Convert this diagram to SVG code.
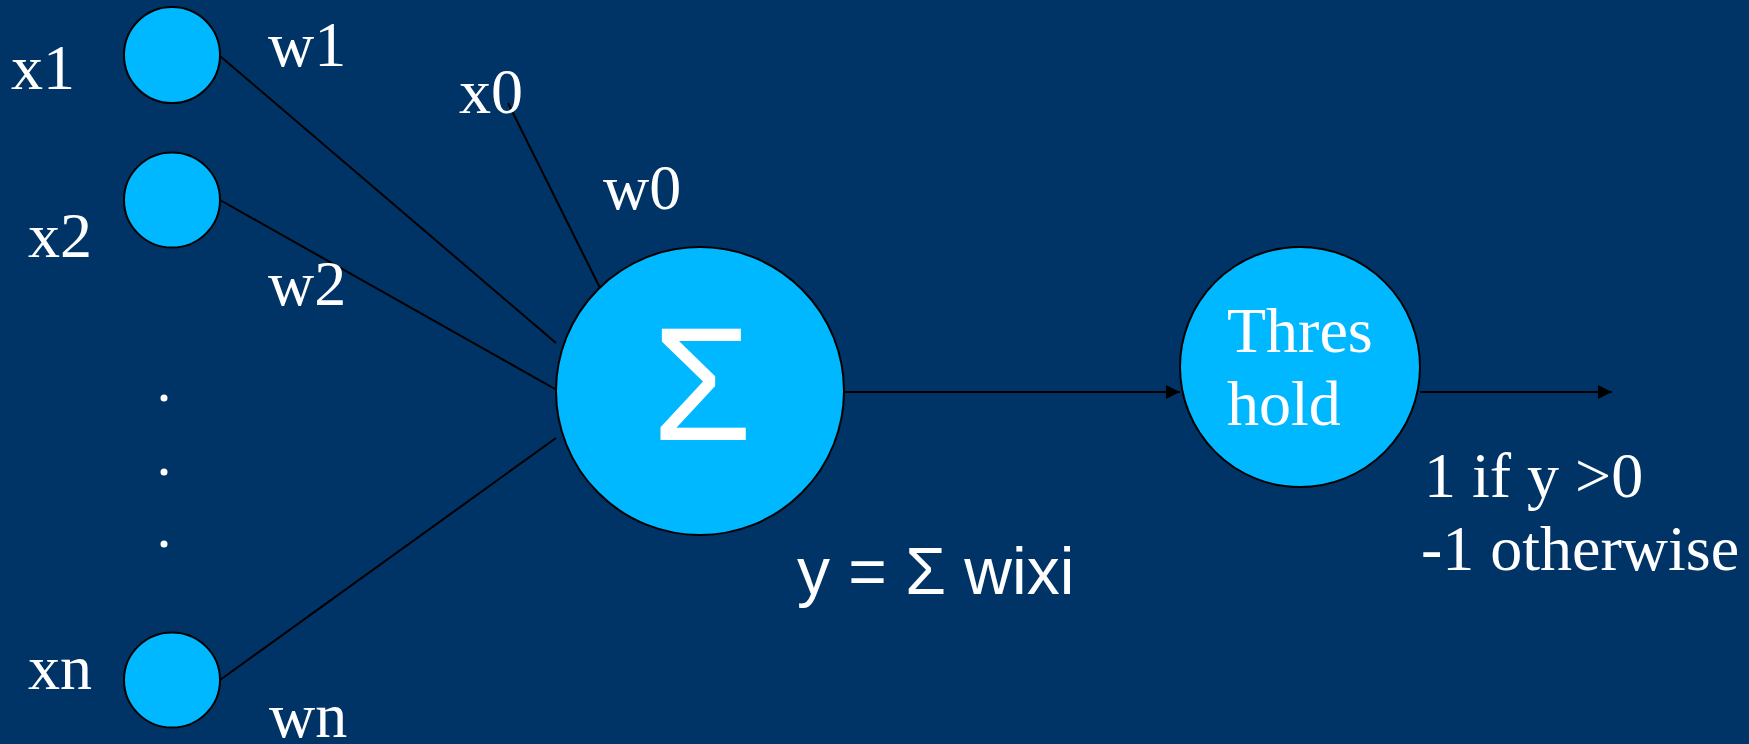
<svg xmlns="http://www.w3.org/2000/svg" width="1749" height="744" viewBox="0 0 1749 744">
<style>
.bg{fill:#003366}
.node{fill:#00B8FF;stroke:#000;stroke-width:2}
.edge{stroke:#000;stroke-width:2;fill:none}
.t{font-family:"Liberation Serif","Times New Roman",serif;font-size:64px;fill:#fff}
.s{font-family:"Liberation Sans",Arial,sans-serif;fill:#fff}
.dot{fill:#fff}
</style>
<defs>
<marker id="arr" viewBox="0 0 10 10" refX="10" refY="5" markerWidth="9" markerHeight="7" markerUnits="strokeWidth" orient="auto">
<path d="M0,0 L10,5 L0,10 z" fill="#000"/>
</marker>
</defs>
<rect class="bg" x="0" y="0" width="1749" height="744"/>
<g id="connectors">
<line class="edge" x1="220" y1="56" x2="556" y2="343"/>
<line class="edge" x1="220" y1="200" x2="555" y2="389"/>
<line class="edge" x1="220" y1="680" x2="556" y2="438"/>
<line class="edge" x1="508" y1="103" x2="604" y2="296"/>
<line class="edge" x1="844" y1="392" x2="1180" y2="392" marker-end="url(#arr)"/>
<line class="edge" x1="1420" y1="392" x2="1612" y2="392" marker-end="url(#arr)"/>
</g>
<g id="node-x1">
<ellipse class="node" cx="172" cy="55" rx="48" ry="48"/>
<text class="t" x="11" y="89">x1</text>
<text class="t" x="268" y="66">w1</text>
</g>
<g id="node-x2">
<ellipse class="node" cx="172" cy="200" rx="48" ry="47.5"/>
<text class="t" x="28" y="257">x2</text>
<text class="t" x="268" y="305">w2</text>
</g>
<g id="node-xn">
<ellipse class="node" cx="172" cy="680" rx="48" ry="47.5"/>
<text class="t" x="28" y="689">xn</text>
<text class="t" x="269" y="737">wn</text>
</g>
<g id="dots">
<circle class="dot" cx="164" cy="398" r="3.5"/>
<circle class="dot" cx="164" cy="472" r="3.5"/>
<circle class="dot" cx="164" cy="544" r="3.5"/>
</g>
<g id="label-x0">
<text class="t" x="459" y="113">x0</text>
<text class="t" x="603" y="209">w0</text>
</g>
<g id="node-sum">
<circle class="node" cx="700" cy="391" r="144"/>
<text class="s" x="702" y="440" font-size="162" text-anchor="middle">Σ</text>
<text class="s" x="797" y="594" font-size="66">y = Σ wixi</text>
</g>
<g id="node-threshold">
<circle class="node" cx="1300" cy="367" r="120"/>
<text class="t" x="1227" y="352">Thres</text>
<text class="t" x="1227" y="425">hold</text>
</g>
<g id="output-label">
<text class="t" x="1424" y="497">1 if y &gt;0</text>
<text class="t" x="1421" y="570">-1 otherwise</text>
</g>
</svg>
